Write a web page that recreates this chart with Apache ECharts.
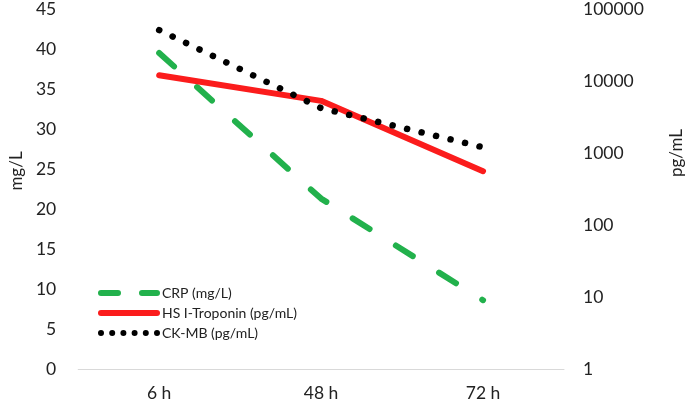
<!DOCTYPE html>
<html>
<head>
<meta charset="utf-8">
<script src="https://cdn.jsdelivr.net/npm/echarts@6/dist/echarts.min.js"></script>
<style>
html,body{margin:0;padding:0;background:#fff;}
#c{width:693px;height:408px;}
</style>
</head>
<body>
<div id="c"></div>
<script>
var categories = ['6 h', '48 h', '72 h'];
var crp = [39.5, 21.3, 8.6];          // mg/L (left axis)
var troponin = [12000, 5300, 560];    // pg/mL (right log axis)
var ckmb = [51000, 4200, 1200];       // pg/mL (right log axis)
var leftTicks = [0, 45, 5];           // min, max, interval
var rightTicks = [1, 100000];         // log min, max

// legend icon shapes (62 x 6 box)
function rr(x0, x1) {
  return 'M' + (x0 + 3) + ',0 L' + (x1 - 3) + ',0 A3,3 0 0,1 ' + (x1 - 3) + ',6 L' + (x0 + 3) + ',6 A3,3 0 0,1 ' + (x0 + 3) + ',0 Z ';
}
function dots(n, w) {
  var s = '', step = (w - 6) / (n - 1);
  for (var i = 0; i < n; i++) {
    var cx = 3 + i * step;
    s += 'M' + (cx - 3) + ',3 A3,3 0 1,0 ' + (cx + 3) + ',3 A3,3 0 1,0 ' + (cx - 3) + ',3 Z ';
  }
  return s;
}
var iconDash = 'path://' + rr(0, 23) + rr(41, 62);
var iconSolid = 'path://' + rr(0, 62);
var iconDots = 'path://' + dots(6, 62);

var font = 'Lato, "Open Sans", sans-serif';
var chart = echarts.init(document.getElementById('c'));
chart.setOption({
  animation: false,
  backgroundColor: '#fff',
  grid: { left: 70, right: 121, top: 7, bottom: 39 },
  legend: {
    orient: 'vertical',
    left: 93,
    top: 281,
    itemWidth: 62,
    itemHeight: 6,
    itemGap: 6,
    itemStyle: { borderWidth: 0, borderColor: 'transparent' },
    textStyle: { fontFamily: font, fontSize: 14, color: '#222', padding: [0, 0, 0, -3] },
    data: [
      { name: 'CRP (mg/L)', icon: iconDash, itemStyle: { borderWidth: 0 } },
      { name: 'HS I-Troponin (pg/mL)', icon: iconSolid, itemStyle: { borderWidth: 0 } },
      { name: 'CK-MB (pg/mL)', icon: iconDots, itemStyle: { borderWidth: 0 } }
    ]
  },
  xAxis: {
    type: 'category',
    data: categories,
    boundaryGap: true,
    axisLine: { lineStyle: { color: '#d9d9d9', width: 1 } },
    axisTick: { show: false },
    axisLabel: { fontFamily: font, fontSize: 17.5, color: '#222', margin: 15 }
  },
  yAxis: [
    {
      type: 'value',
      min: leftTicks[0], max: leftTicks[1], interval: leftTicks[2],
      name: 'mg/L',
      nameLocation: 'middle',
      nameGap: 53,
      nameTextStyle: { fontFamily: font, fontSize: 17, color: '#222', padding: [0, 0, 0, 36] },
      axisLine: { show: false },
      axisTick: { show: false },
      splitLine: { show: false },
      axisLabel: { fontFamily: font, fontSize: 17.5, color: '#222', margin: 22 }
    },
    {
      type: 'log',
      logBase: 10,
      min: rightTicks[0], max: rightTicks[1],
      name: 'pg/mL',
      nameLocation: 'middle',
      nameGap: 104,
      nameTextStyle: { fontFamily: font, fontSize: 17, color: '#222', padding: [0, 0, 0, 72] },
      axisLine: { show: false },
      axisTick: { show: false },
      splitLine: { show: false },
      axisLabel: {
        fontFamily: font, fontSize: 17.5, color: '#222', margin: 19,
        formatter: function (v) { return String(Math.round(v)); }
      }
    }
  ],
  series: [
    {
      name: 'CRP (mg/L)',
      type: 'line',
      yAxisIndex: 0,
      data: crp,
      symbol: 'none',
      color: '#22b14c',
      itemStyle: { color: '#22b14c', borderWidth: 0 },
      lineStyle: { color: '#22b14c', width: 6, type: [20, 31], cap: 'round' }
    },
    {
      name: 'HS I-Troponin (pg/mL)',
      type: 'line',
      yAxisIndex: 1,
      data: troponin,
      symbol: 'none',
      color: '#fb1c1c',
      itemStyle: { color: '#fb1c1c', borderWidth: 0 },
      lineStyle: { color: '#fb1c1c', width: 6, cap: 'round' }
    },
    {
      name: 'CK-MB (pg/mL)',
      type: 'line',
      yAxisIndex: 1,
      data: ckmb,
      symbol: 'none',
      color: '#000',
      itemStyle: { color: '#000', borderWidth: 0 },
      lineStyle: { color: '#000', width: 6.5, type: [0.1, 14.8], cap: 'round' }
    }
  ]
});
</script>
</body>
</html>
